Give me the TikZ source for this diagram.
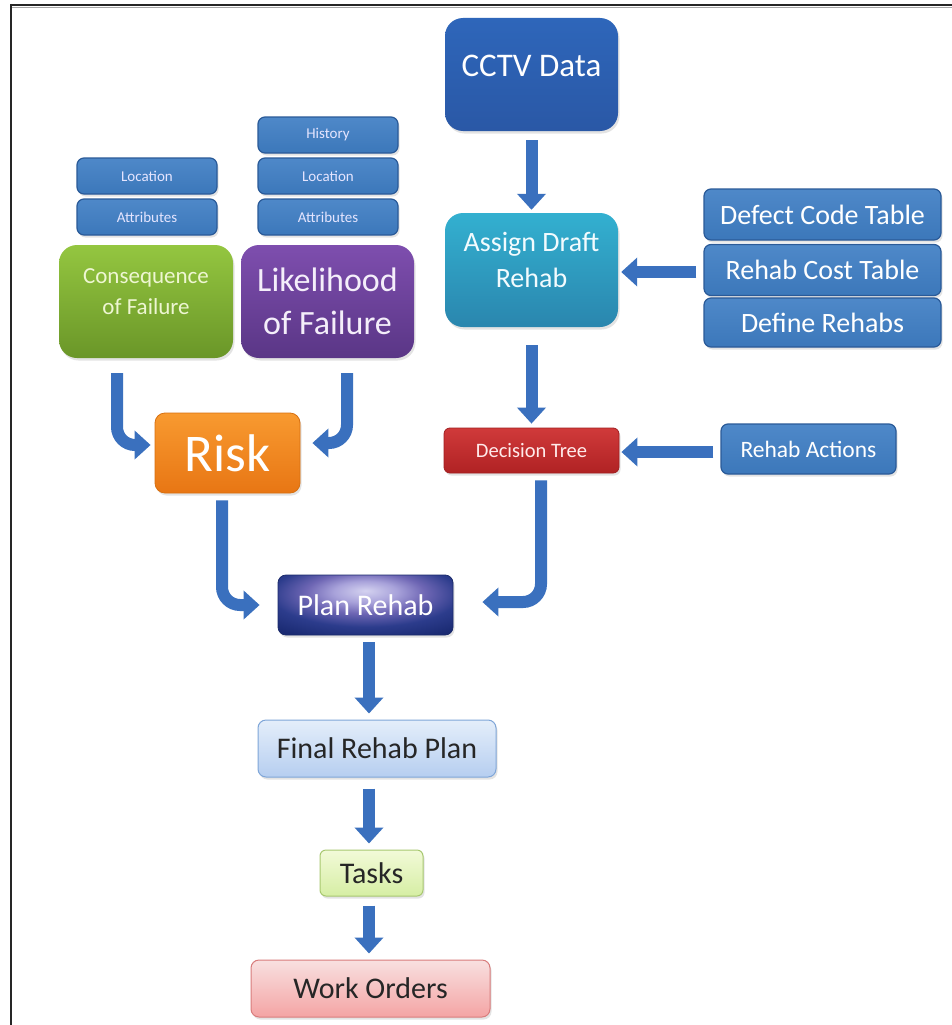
\documentclass[tikz,border=0pt]{standalone}
\usepackage{fontspec}
\setmainfont{Carlito}
\usetikzlibrary{arrows.meta,shadows}
\definecolor{arrowblue}{HTML}{3A70BE}
\definecolor{boxblue}{HTML}{3F7EC4}
\definecolor{boxblueline}{HTML}{2A5A98}
\definecolor{cctvtop}{HTML}{2E66BA}
\definecolor{cctvbot}{HTML}{2A58A6}
\definecolor{astop}{HTML}{33B0D0}
\definecolor{asbot}{HTML}{2A86AE}
\definecolor{dtline}{HTML}{A01E20}
\definecolor{dttop}{HTML}{D03A3A}
\definecolor{dtbot}{HTML}{B02224}
\definecolor{constop}{HTML}{94C640}
\definecolor{consbot}{HTML}{6A9628}
\definecolor{constext}{HTML}{EEF6D2}
\definecolor{liketop}{HTML}{7E4EAE}
\definecolor{likebot}{HTML}{5A3686}
\definecolor{liketext}{HTML}{F4EEFA}
\definecolor{riskline}{HTML}{D87010}
\definecolor{risktop}{HTML}{F89A30}
\definecolor{riskbot}{HTML}{E87614}
\definecolor{planline}{HTML}{1A2A6A}
\definecolor{planA}{HTML}{D4D2F0}
\definecolor{planB}{HTML}{A8A2DA}
\definecolor{planC}{HTML}{6E66B4}
\definecolor{planD}{HTML}{2C3C8C}
\definecolor{planE}{HTML}{1A2A72}
\definecolor{finline}{HTML}{7FA6D8}
\definecolor{fintop}{HTML}{E4EEFA}
\definecolor{finbot}{HTML}{B6CEF0}
\definecolor{taskline}{HTML}{A8C870}
\definecolor{tasktop}{HTML}{F2FAD8}
\definecolor{taskbot}{HTML}{D6EEA4}
\definecolor{workline}{HTML}{D87C7C}
\definecolor{worktop}{HTML}{F8E0E0}
\definecolor{workbot}{HTML}{F4A4A4}
\pgfdeclareradialshading{planglow}{\pgfpoint{0bp}{12bp}}{%
  color(0bp)=(planA); color(9bp)=(planB); color(17bp)=(planC);
  color(27bp)=(planD); color(38bp)=(planE); color(100bp)=(planE)}
\tikzset{
  base/.style={rounded corners=#1, align=center, inner sep=0pt,
    drop shadow={opacity=0.22, shadow xshift=1.5pt, shadow yshift=-2.5pt}},
  bluebox/.style={base=7pt, draw=boxblueline, line width=1.2pt, top color=boxblue!92!white, bottom color=boxblue!95!black, text=white},
  smallbox/.style={bluebox, minimum width=140pt, minimum height=36pt, font=\fontsize{15}{16}\selectfont, text=white!90!blue},
  bigbox/.style={base=18pt, minimum width=173pt, minimum height=113pt},
  arr/.style={draw=arrowblue, line width=12pt, -{Triangle[width=28pt,length=16pt]}},
  carr/.style={arr, rounded corners=18pt},
}
\begin{document}
\begin{tikzpicture}[x=1pt,y=-1pt]
\useasboundingbox (0,0) rectangle (952,1025);
\fill[white] (0,0) rectangle (952,1025);
% frame
\draw[line width=2.2pt, black!85] (11,5) -- (952,5);
\draw[line width=1pt, black!35] (12,7.5) -- (952,7.5);
\draw[line width=2.2pt, black!85] (11,4) -- (11,1025);

% top-right column
\node[bigbox, top color=cctvtop, bottom color=cctvbot, font=\fontsize{33}{36}\selectfont, text=white] (cctv) at (531.5,74.5) {CCTV Data\\[-18pt]};
\node[bigbox, minimum height=114pt, top color=astop, bottom color=asbot, font=\fontsize{28}{36}\selectfont, text=white!95!cyan] (assign) at (531.5,270) {Assign Draft\\Rehab\\[-16pt]};
\node[bluebox, minimum width=237pt, minimum height=51pt, font=\fontsize{28}{30}\selectfont] (defect) at (822.5,214.5) {Defect Code Table};
\node[bluebox, minimum width=237pt, minimum height=51pt, font=\fontsize{28}{30}\selectfont] (cost) at (822.5,270) {Rehab Cost Table};
\node[bluebox, minimum width=237pt, minimum height=49pt, font=\fontsize{28}{30}\selectfont] (define) at (822.5,322.5) {Define Rehabs};
\node[base=6pt, draw=dtline, line width=0.8pt, top color=dttop, bottom color=dtbot, minimum width=175pt, minimum height=45pt, font=\fontsize{20.5}{22}\selectfont, text=white!92!red] (dtree) at (531.5,450.5) {Decision Tree};
\node[bluebox, minimum width=175pt, minimum height=50pt, font=\fontsize{23.5}{26}\selectfont] (actions) at (808.5,449) {Rehab Actions};

% left inputs
\node[smallbox] (loc1) at (147,176) {Location};
\node[smallbox] (att1) at (147,217) {Attributes};
\node[smallbox] (hist) at (328,135) {History};
\node[smallbox] (loc2) at (328,176) {Location};
\node[smallbox] (att2) at (328,217) {Attributes};
\node[bigbox, minimum width=174pt, top color=constop, bottom color=consbot, font=\fontsize{23}{31}\selectfont, text=constext] (cons) at (146,301.5) {Consequence\\of Failure\\[-11pt]};
\node[bigbox, top color=liketop, bottom color=likebot, font=\fontsize{34}{43}\selectfont, text=liketext] (like) at (327.5,301.5) {Likelihood\\of Failure};
\node[base=10pt, draw=riskline, line width=0.8pt, top color=risktop, bottom color=riskbot, minimum width=145pt, minimum height=80pt, font=\fontsize{53}{56}\selectfont, text=white] (risk) at (227.5,453) {Risk};

% lower chain
\node[base=8pt, draw=planline, line width=0.8pt, shading=planglow, minimum width=175pt, minimum height=60pt, font=\fontsize{30}{32}\selectfont, text=white] (plan) at (365.5,605) {Plan Rehab};
\node[base=8pt, draw=finline, line width=1pt, top color=fintop, bottom color=finbot, minimum width=238pt, minimum height=57pt, font=\fontsize{30}{32}\selectfont, text=black!85] (final) at (377,748.5) {Final Rehab Plan};
\node[base=6pt, draw=taskline, line width=1pt, top color=tasktop, bottom color=taskbot, minimum width=103pt, minimum height=46pt, font=\fontsize{30}{32}\selectfont, text=black!85] (tasks) at (371.5,873) {Tasks};
\node[base=8pt, draw=workline, line width=1pt, top color=worktop, bottom color=workbot, minimum width=239pt, minimum height=57pt, font=\fontsize{30}{32}\selectfont, text=black!85] (work) at (370.5,988.5) {Work Orders};

% connectors
\draw[arr] ([yshift=-9pt]cctv.south) -- ([yshift=3pt]assign.north);
\draw[arr] ([xshift=-7pt,yshift=-2pt]cost.west) -- ([xshift=3pt,yshift=-2pt]assign.east);
\draw[arr] ([yshift=-18pt]assign.south) -- ([yshift=4pt]dtree.north);
\draw[arr] ([xshift=-7pt,yshift=-3pt]actions.west) -- ([xshift=2pt,yshift=-1.5pt]dtree.east);
\draw[carr] ([xshift=9.5pt,yshift=-7pt]dtree.south) |- ([xshift=29pt,yshift=3pt]plan.east);
\draw[carr] ([xshift=-29pt,yshift=-15pt]cons.south) |- ([xshift=-4pt,yshift=8pt]risk.west);
\draw[carr] ([xshift=19.5pt,yshift=-15pt]like.south) |- ([xshift=12pt,yshift=10pt]risk.east);
\draw[carr] ([xshift=-5.5pt,yshift=-7pt]risk.south) |- ([xshift=-18pt]plan.west);
\draw[arr] ([xshift=3.5pt,yshift=-7pt]plan.south) -- ([xshift=-8pt,yshift=6pt]final.north);
\draw[arr] ([xshift=-8pt,yshift=-11pt]final.south) -- ([xshift=-2.5pt,yshift=6pt]tasks.north);
\draw[arr] ([xshift=-2.5pt,yshift=-9pt]tasks.south) -- ([xshift=-1.5pt,yshift=6pt]work.north);
\end{tikzpicture}
\end{document}
